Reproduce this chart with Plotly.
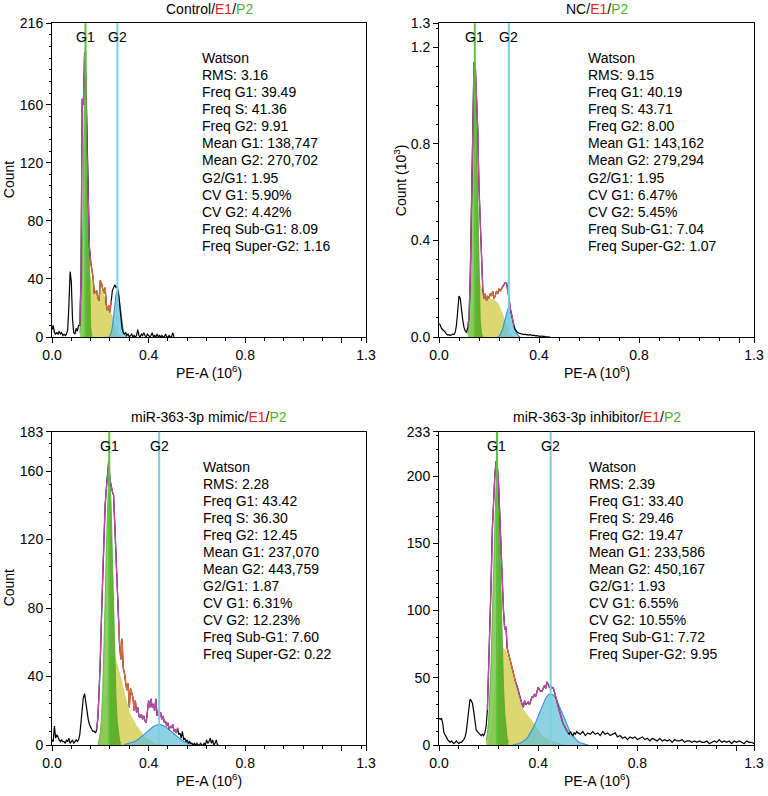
import numpy as np
import plotly.graph_objects as go

BIN = 0.005  # histogram bin width (10^6 units)

# ---------------- Control ----------------
CTRL_HIST = [5, 8, 3, 2, 3, 2, 4, 2, 3, 1,
             2, 1, 2, 5, 22, 45, 38, 12, 3, 2,
             6, 4, 8, 8, 40, 164, 160, 196, 175, 130,
             90, 62, 52, 46, 41, 30, 31, 32, 27, 25,
             39, 37, 33, 30, 34, 22, 18, 22, 17, 25,
             32, 34, 36, 34, 35, 31, 22, 12, 6, 3,
             2, 3, 1, 2, 0, 1, 2, 0, 1, 0,
             1, 5, 1, 0, 2, 1, 3, 1, 0, 2,
             1, 0, 1, 3, 0, 1, 0, 2, 0, 1,
             0, 1, 0, 0, 2, 0, 0, 1, 0, 0,
             3, 0]
CTRL_TAIL = []
CTRL_G1_START, CTRL_G1_STEP = 0.115, 0.005
CTRL_G1 = [3, 15, 50, 115, 180, 197, 148, 77, 27, 7, 1]
CTRL_S_START, CTRL_S_STEP = 0.125, 0.005
CTRL_S = [5, 15, 30, 42, 46, 44, 42, 40, 38, 36, 29, 30, 30, 26, 25, 32, 31, 29, 28, 27,
          21, 18, 19, 16, 16, 14, 11, 8, 5, 3, 2, 1, 0]
CTRL_G2_START, CTRL_G2_STEP = 0.235, 0.005
CTRL_G2 = [0, 1, 3, 7, 14, 22, 29, 32, 30, 24, 16, 9, 4, 2, 1, 0]
CTRL_MEANS = [138747, 270702]
CTRL_STATS = ["Watson", "RMS: 3.16", "Freq G1: 39.49", "Freq S: 41.36", "Freq G2: 9.91",
              "Mean G1: 138,747", "Mean G2: 270,702", "G2/G1: 1.95", "CV G1: 5.90%",
              "CV G2: 4.42%", "Freq Sub-G1: 8.09", "Freq Super-G2: 1.16"]

# ---------------- NC (counts in 10^3) ----------------
NC_HIST = [0.055, 0.05, 0.035, 0.03, 0.028, 0.02, 0.012, 0.008, 0.01, 0.006,
           0.008, 0.012, 0.01, 0.02, 0.05, 0.1, 0.17, 0.16, 0.1, 0.07,
           0.04, 0.025, 0.02, 0.04, 0.08, 0.25, 0.55, 0.9, 1.14, 1.13,
           1.0, 0.86, 0.62, 0.46, 0.3, 0.2, 0.16, 0.18, 0.15, 0.17,
           0.16, 0.18, 0.17, 0.19, 0.16, 0.17, 0.19, 0.18, 0.2, 0.19,
           0.2, 0.21, 0.22, 0.225, 0.225, 0.2, 0.16, 0.12, 0.09, 0.065,
           0.045, 0.03, 0.022, 0.018, 0.016, 0.014, 0.012, 0.011, 0.01, 0.012,
           0.009, 0.01, 0.008, 0.01, 0.007, 0.006, 0.008, 0.005, 0.006, 0.004,
           0.005, 0.003, 0.004, 0.002, 0.003, 0.002, 0.001, 0.002, 0.001, 0.0]
NC_TAIL = []
NC_G1_START, NC_G1_STEP = 0.115, 0.005
NC_G1 = [0.013, 0.054, 0.175, 0.43, 0.79, 1.09, 1.12, 0.86, 0.5, 0.21, 0.07, 0.017, 0.0]
NC_S_START, NC_S_STEP = 0.125, 0.005
NC_S = [0.01, 0.05, 0.1, 0.15, 0.2, 0.24, 0.25, 0.24, 0.22, 0.2, 0.18, 0.165, 0.16, 0.155,
        0.155, 0.155, 0.155, 0.155, 0.155, 0.155, 0.15, 0.145, 0.14, 0.13, 0.12, 0.105,
        0.09, 0.075, 0.06, 0.045, 0.032, 0.022, 0.014, 0.008, 0.004, 0.0]
NC_G2_START, NC_G2_STEP = 0.235, 0.005
NC_G2 = [0.002, 0.004, 0.01, 0.019, 0.034, 0.055, 0.079, 0.1, 0.116, 0.12, 0.111, 0.093,
         0.069, 0.046, 0.028, 0.015, 0.007, 0.003, 0.001]
NC_MEANS = [143162, 279294]
NC_STATS = ["Watson", "RMS: 9.15", "Freq G1: 40.19", "Freq S: 43.71", "Freq G2: 8.00",
            "Mean G1: 143,162", "Mean G2: 279,294", "G2/G1: 1.95", "CV G1: 6.47%",
            "CV G2: 5.45%", "Freq Sub-G1: 7.04", "Freq Super-G2: 1.07"]

# ---------------- miR-363-3p mimic ----------------
MIMIC_HIST = [3, 2, 11, 4, 6, 4, 3, 2, 3, 2,
              2, 1, 3, 2, 4, 1, 2, 3, 1, 2,
              3, 2, 3, 6, 14, 22, 28, 30, 24, 19,
              15, 12, 10, 9, 8, 8, 7, 9, 16, 30,
              48, 75, 100, 122, 140, 150, 160, 166, 155, 150,
              148, 146, 128, 105, 85, 70, 58, 50, 62, 45,
              42, 36, 32, 36, 22, 33, 31, 28, 20, 26,
              19, 22, 17, 16, 18, 15, 17, 14, 13, 20,
              26, 22, 27, 22, 24, 20, 27, 17, 20, 16,
              19, 15, 17, 13, 14, 11, 13, 9, 11, 10,
              12, 8, 9, 7, 10, 6, 7, 4, 8, 3,
              4, 2, 3, 1, 2, 1, 1, 0, 1, 0,
              1, 0, 0, 1, 0, 0, 1, 0, 3, 1,
              2, 4, 1, 3, 0, 1, 3, 0, 0]
MIMIC_TAIL = []
MIMIC_G1_START, MIMIC_G1_STEP = 0.19, 0.005
MIMIC_G1 = [1, 3, 7.5, 16.5, 32, 54, 84, 116, 144, 158, 157, 139, 110, 78, 50, 28, 14, 6.5, 2.6, 1]
MIMIC_S_START, MIMIC_S_STEP = 0.19, 0.01
MIMIC_S = [0, 3, 10, 24, 38, 47, 52, 52, 47, 42, 36, 30, 24, 19, 16, 13, 11, 9, 7, 5.5,
           4, 3, 2, 1, 0.5, 0]
MIMIC_G2_START, MIMIC_G2_STEP = 0.30, 0.01
MIMIC_G2 = [0.3, 0.6, 0.9, 1.3, 1.9, 2.6, 3.6, 4.7, 5.9, 7.2, 8.6, 9.8, 10.8, 11.6, 12, 11.9,
            11.5, 10.7, 9.6, 8.4, 7, 5.7, 4.4, 3.4, 2.5, 1.8, 1.2, 0.8, 0.5, 0.3, 0]
MIMIC_MEANS = [237070, 443759]
MIMIC_STATS = ["Watson", "RMS: 2.28", "Freq G1: 43.42", "Freq S: 36.30", "Freq G2: 12.45",
               "Mean G1: 237,070", "Mean G2: 443,759", "G2/G1: 1.87", "CV G1: 6.31%",
               "CV G2: 12.23%", "Freq Sub-G1: 7.60", "Freq Super-G2: 0.22"]

# ---------------- miR-363-3p inhibitor ----------------
INHIB_HIST = [20, 19, 20, 16, 9, 7, 5, 4, 3, 2,
              3, 2, 1, 2, 3, 2, 1, 2, 2, 3,
              4, 6, 10, 18, 28, 34, 33, 31, 25, 16,
              11, 10, 9, 8, 7, 8, 7, 9, 14, 26,
              55, 85, 120, 160, 185, 200, 211, 208, 195, 170,
              140, 118, 100, 86, 88, 72, 68, 66, 60, 56,
              52, 49, 46, 44, 40, 36, 33, 30, 28, 33,
              30, 31, 32, 30, 34, 36, 35, 38, 36, 40,
              43, 41, 40, 40, 42, 44, 42, 47, 45, 43,
              44, 42, 43, 40, 37, 33, 29, 25, 22, 19,
              16, 14, 12, 10, 9, 8, 10, 8, 7, 9,
              8, 10]
INHIB_TAIL_START, INHIB_TAIL_STEP = 0.56, 0.01
INHIB_TAIL = [9, 8, 10, 7, 9, 8, 10, 8, 9, 7, 10, 8, 9, 7, 8, 9, 6, 7, 5, 6,
              4, 6, 5, 6, 4, 5, 6, 4, 5, 3, 5, 4, 3, 5, 3, 4, 3, 4, 2, 4,
              3, 3, 4, 2, 3, 3, 2, 3, 2, 3, 2, 2, 3, 1, 2, 3, 2, 4, 2, 3,
              2, 3, 1, 3, 2, 3, 2, 1, 3, 2, 2, 1]
INHIB_G1_START, INHIB_G1_STEP = 0.19, 0.005
INHIB_G1 = [3.4, 8.4, 18, 35, 61, 95, 135, 171, 194, 199, 183, 151, 113, 75, 45, 24, 12, 5, 2]
INHIB_S_START, INHIB_S_STEP = 0.20, 0.01
INHIB_S = [0, 10, 30, 50, 63, 70, 72, 70, 64, 58, 50, 43, 36, 30, 26, 23, 21, 19, 16, 13,
           10, 8, 6, 5, 4, 3, 2.5, 2, 1.5, 1, 0.5, 0]
INHIB_G2_START, INHIB_G2_STEP = 0.30, 0.01
INHIB_G2 = [0.3, 0.5, 0.9, 1.6, 2.6, 4.1, 6.4, 9.2, 12.8, 17, 21.8, 26.7, 31, 34.8, 37.2, 38,
            37.2, 34.8, 31, 26.7, 21.8, 17, 12.8, 9.2, 6.4, 4.1, 2.6, 1.6, 0.9, 0.5, 0.3]
INHIB_MEANS = [233586, 450167]
INHIB_STATS = ["Watson", "RMS: 2.39", "Freq G1: 33.40", "Freq S: 29.46", "Freq G2: 19.47",
               "Mean G1: 233,586", "Mean G2: 450,167", "G2/G1: 1.93", "CV G1: 6.55%",
               "CV G2: 10.55%", "Freq Sub-G1: 7.72", "Freq Super-G2: 9.95"]

TITLES = ["Control", "NC", "miR-363-3p mimic", "miR-363-3p inhibitor"]
MEAN_SCALE = 1e6
X_TICKS = [0, 0.4, 0.8, 1.2]
X_TICKTEXT = ["0.0", "0.4", "0.8", ""]
X_END_LABEL = "1.3"

# ---------------- layout / style config ----------------
W, H = 768, 796
FONT = "Liberation Sans, Arial, Helvetica, sans-serif"
RED, GREEN_TXT = "#e8231c", "#4cb52c"
YELLOW_FILL = "rgba(206,200,58,0.72)"
YELLOW_LINE = "rgba(200,190,60,0.8)"
G1_LIGHT = "rgba(125,198,80,0.85)"
G1_DARK = "rgba(88,172,38,0.92)"
G1_LINE = "#4fa82c"
G2_FILL = "rgba(95,192,216,0.72)"
G2_LINE = "#3a8ed6"
MAGENTA = "#bb4aa6"
ORANGE = "#de6a3a"
G1_VLINE = "#5cc23d"
G2_VLINE = "#78d0e2"

panels = [
    dict(hist=CTRL_HIST, tail=CTRL_TAIL, tail_start=None, tail_step=None,
         g1=(CTRL_G1_START, CTRL_G1_STEP, CTRL_G1), s=(CTRL_S_START, CTRL_S_STEP, CTRL_S),
         g2=(CTRL_G2_START, CTRL_G2_STEP, CTRL_G2), means=CTRL_MEANS, stats=CTRL_STATS,
         px=(52, 366), py=(23.3, 337), xmax=1.3, ymax=216,
         yt=[0, 40, 80, 120, 160, 216], ytt=["0", "40", "80", "120", "160", "216"], yminor=8,
         ytitle="Count", ytitle_x=9, text_x=200,
         magenta=[(0.112, 0.162)], orange=[(0.158, 0.247)]),
    dict(hist=NC_HIST, tail=NC_TAIL, tail_start=None, tail_step=None,
         g1=(NC_G1_START, NC_G1_STEP, NC_G1), s=(NC_S_START, NC_S_STEP, NC_S),
         g2=(NC_G2_START, NC_G2_STEP, NC_G2), means=NC_MEANS, stats=NC_STATS,
         px=(439, 754), py=(23.3, 337), xmax=1.26, ymax=1.3,
         yt=[0, 0.4, 0.8, 1.2, 1.3], ytt=["0.0", "0.4", "0.8", "1.2", "1.3"], yminor=0.08,
         ytitle="Count (10<sup>3</sup>)", ytitle_x=400, text_x=586,
         magenta=[(0.112, 0.18), (0.253, 0.302)], orange=[(0.177, 0.257)]),
    dict(hist=MIMIC_HIST, tail=MIMIC_TAIL, tail_start=None, tail_step=None,
         g1=(MIMIC_G1_START, MIMIC_G1_STEP, MIMIC_G1), s=(MIMIC_S_START, MIMIC_S_STEP, MIMIC_S),
         g2=(MIMIC_G2_START, MIMIC_G2_STEP, MIMIC_G2), means=MIMIC_MEANS, stats=MIMIC_STATS,
         px=(52, 366), py=(431.7, 745), xmax=1.3, ymax=183,
         yt=[0, 40, 80, 120, 160, 183], ytt=["0", "40", "80", "120", "160", "183"], yminor=8,
         ytitle="Count", ytitle_x=9, text_x=201,
         magenta=[(0.183, 0.28), (0.34, 0.52)], orange=[(0.275, 0.345)]),
    dict(hist=INHIB_HIST, tail=INHIB_TAIL, tail_start=INHIB_TAIL_START, tail_step=INHIB_TAIL_STEP,
         g1=(INHIB_G1_START, INHIB_G1_STEP, INHIB_G1), s=(INHIB_S_START, INHIB_S_STEP, INHIB_S),
         g2=(INHIB_G2_START, INHIB_G2_STEP, INHIB_G2), means=INHIB_MEANS, stats=INHIB_STATS,
         px=(439, 754), py=(431.7, 745), xmax=1.27, ymax=233,
         yt=[0, 50, 100, 150, 200, 233], ytt=["0", "50", "100", "150", "200", "233"], yminor=10,
         ytitle=None, ytitle_x=402, text_x=587,
         magenta=[(0.193, 0.28), (0.305, 0.52)], orange=[(0.275, 0.31)]),
]


def comp_xy(spec):
    start, step, vals = spec
    x = [round(start + k * step, 4) for k in range(len(vals))]
    return x, list(vals)


fig = go.Figure()
annotations = []
shapes = []
layout_axes = {}

for i, p in enumerate(panels):
    n = i + 1
    xa = "x" if n == 1 else f"x{n}"
    ya = "y" if n == 1 else f"y{n}"
    hx = [round(k * BIN, 4) for k in range(len(p["hist"]))]
    hy = list(p["hist"])
    if p["tail"]:
        hx += [round(p["tail_start"] + k * p["tail_step"], 4) for k in range(len(p["tail"]))]
        hy += list(p["tail"])
    hx = np.array(hx)
    hy = np.array(hy)

    sx, sy = comp_xy(p["s"])
    fig.add_trace(go.Scatter(x=sx, y=sy, xaxis=xa, yaxis=ya, mode="lines", fill="tozeroy",
                             fillcolor=YELLOW_FILL, line=dict(color=YELLOW_LINE, width=0.6),
                             hoverinfo="skip", showlegend=False))
    gx, gy = comp_xy(p["g2"])
    fig.add_trace(go.Scatter(x=gx, y=gy, xaxis=xa, yaxis=ya, mode="lines", fill="tozeroy",
                             fillcolor=G2_FILL, line=dict(color=G2_LINE, width=1.1),
                             hoverinfo="skip", showlegend=False))
    g1x, g1y = comp_xy(p["g1"])
    im = int(np.argmax(g1y))
    fig.add_trace(go.Scatter(x=g1x[:im + 1], y=g1y[:im + 1], xaxis=xa, yaxis=ya, mode="lines",
                             fill="tozeroy", fillcolor=G1_LIGHT, line=dict(color=G1_LINE, width=0.8),
                             hoverinfo="skip", showlegend=False))
    fig.add_trace(go.Scatter(x=g1x[im:], y=g1y[im:], xaxis=xa, yaxis=ya, mode="lines",
                             fill="tozeroy", fillcolor=G1_DARK, line=dict(color=G1_LINE, width=0.8),
                             hoverinfo="skip", showlegend=False))
    fig.add_trace(go.Scatter(x=hx, y=hy, xaxis=xa, yaxis=ya, mode="lines",
                             line=dict(color="black", width=1.2), hoverinfo="skip", showlegend=False))
    for (a, b) in p["magenta"]:
        m = (hx >= a) & (hx <= b)
        fig.add_trace(go.Scatter(x=hx[m], y=hy[m], xaxis=xa, yaxis=ya, mode="lines",
                                 line=dict(color=MAGENTA, width=1.3), hoverinfo="skip", showlegend=False))
    for (a, b) in p["orange"]:
        m = (hx >= a) & (hx <= b)
        fig.add_trace(go.Scatter(x=hx[m], y=hy[m], xaxis=xa, yaxis=ya, mode="lines",
                                 line=dict(color=ORANGE, width=1.3), hoverinfo="skip", showlegend=False))

    x0, x1 = p["px"]
    ytop, ybot = p["py"]
    xdom = [x0 / W, x1 / W]
    ydom = [1 - ybot / H, 1 - ytop / H]
    axis_common = dict(showline=True, linecolor="black", linewidth=1, mirror=True,
                       showgrid=False, zeroline=False, ticks="outside", ticklen=5,
                       tickwidth=1, tickcolor="black", automargin=False,
                       tickfont=dict(family=FONT, size=14, color="black"))
    layout_axes["xaxis" if n == 1 else f"xaxis{n}"] = dict(
        axis_common, domain=xdom, range=[0, p["xmax"]], anchor=ya,
        tickmode="array", tickvals=X_TICKS + [p["xmax"]],
        ticktext=X_TICKTEXT + [X_END_LABEL],
        minor=dict(tickmode="linear", tick0=0, dtick=0.08, ticks="outside", ticklen=2.5,
                   tickcolor="black", tickwidth=1, showgrid=False))
    layout_axes["yaxis" if n == 1 else f"yaxis{n}"] = dict(
        axis_common, domain=ydom, range=[0, p["ymax"]], anchor=xa,
        tickmode="array", tickvals=p["yt"], ticktext=p["ytt"],
        minor=dict(tickmode="linear", tick0=0, dtick=p["yminor"], ticks="outside", ticklen=2.5,
                   tickcolor="black", tickwidth=1, showgrid=False))

    for k, (mean, col, lab) in enumerate(zip(p["means"], [G1_VLINE, G2_VLINE], ["G1", "G2"])):
        xm = mean / MEAN_SCALE
        shapes.append(dict(type="line", xref=xa, yref=f"{ya} domain", x0=xm, x1=xm, y0=0, y1=1,
                           line=dict(color=col, width=2)))
        annotations.append(dict(x=xm, xref=xa, y=1 - (ytop + 14) / H, yref="paper", text=lab,
                                showarrow=False, xanchor="center", yanchor="middle",
                                font=dict(family=FONT, size=14, color="black")))

    cx = (x0 + x1) / 2 / W
    title = (f'{TITLES[i]}/<span style="color:{RED}">E1</span>/'
             f'<span style="color:{GREEN_TXT}">P2</span>')
    annotations.append(dict(x=cx, xref="paper", y=1 - (ytop - 14.5) / H, yref="paper", text=title,
                            showarrow=False, xanchor="center", yanchor="middle",
                            font=dict(family=FONT, size=14, color="black")))
    annotations.append(dict(x=cx, xref="paper", y=1 - (ybot + 35) / H, yref="paper",
                            text="PE-A (10<sup>6</sup>)", showarrow=False, xanchor="center",
                            yanchor="middle", font=dict(family=FONT, size=14, color="black")))
    if p["ytitle"]:
        annotations.append(dict(x=p["ytitle_x"] / W, xref="paper", y=1 - (ytop + ybot) / 2 / H,
                                yref="paper", text=p["ytitle"], textangle=-90, showarrow=False,
                                xanchor="center", yanchor="middle",
                                font=dict(family=FONT, size=14, color="black")))
    for k, line in enumerate(p["stats"]):
        annotations.append(dict(x=p["text_x"] / W, xref="paper",
                                y=1 - (ytop + 35 + k * 17.03) / H, yref="paper", text=line,
                                showarrow=False, xanchor="left", yanchor="middle",
                                font=dict(family=FONT, size=14, color="black")))

fig.update_layout(
    template="none",
    width=W, height=H, margin=dict(l=0, r=0, t=0, b=0, autoexpand=False),
    paper_bgcolor="white", plot_bgcolor="white",
    font=dict(family=FONT, size=14, color="black"),
    showlegend=False, annotations=annotations, shapes=shapes,
    hovermode=False,
    **layout_axes)

fig.write_html("out.html", config={"displayModeBar": False, "staticPlot": True},
               post_script="document.body.style.margin='0';document.body.style.overflow='hidden';")
